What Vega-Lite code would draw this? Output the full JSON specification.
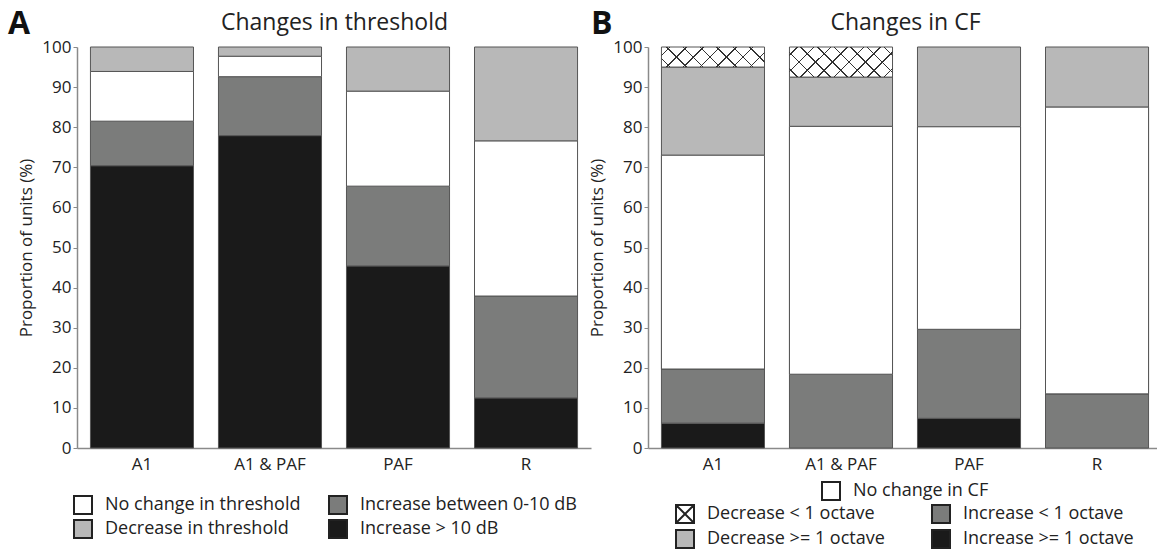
{
  "$schema": "https://vega.github.io/schema/vega-lite/v6.json",
  "padding": {"left": 8, "top": 8, "right": 0, "bottom": 0},
  "config": {
    "font": "Open Sans",
    "view": {"stroke": null},
    "axis": {"labelColor": "#222", "titleColor": "#222", "domainColor": "#8a8a8a", "tickColor": "#8a8a8a", "grid": false, "labelFontSize": 17, "titleFontSize": 17, "titleFontWeight": "normal"},
    "legend": {"labelFontSize": 18, "labelColor": "#222", "padding": 0, "labelLimit": 0}
  },
  "spacing": 57,
  "bounds": "flush",
  "resolve": {"scale": {"fill": "independent"}},
  "hconcat": [
    {
      "width": 514,
      "height": 401,
      "title": {"text": "A", "anchor": "start", "frame": "group", "fontSize": 32, "fontWeight": "bold", "color": "#111", "dx": -69, "dy": 30, "offset": 0},
      "data": {"values": [
        {"region": "A1", "change": "Increase > 10 dB", "pct": 70.4},
        {"region": "A1", "change": "Increase between 0-10 dB", "pct": 11.1},
        {"region": "A1", "change": "No change in threshold", "pct": 12.4},
        {"region": "A1", "change": "Decrease in threshold", "pct": 6.1},
        {"region": "A1 & PAF", "change": "Increase > 10 dB", "pct": 77.9},
        {"region": "A1 & PAF", "change": "Increase between 0-10 dB", "pct": 14.7},
        {"region": "A1 & PAF", "change": "No change in threshold", "pct": 5.1},
        {"region": "A1 & PAF", "change": "Decrease in threshold", "pct": 2.3},
        {"region": "PAF", "change": "Increase > 10 dB", "pct": 45.4},
        {"region": "PAF", "change": "Increase between 0-10 dB", "pct": 19.9},
        {"region": "PAF", "change": "No change in threshold", "pct": 23.7},
        {"region": "PAF", "change": "Decrease in threshold", "pct": 11.0},
        {"region": "R", "change": "Increase > 10 dB", "pct": 12.5},
        {"region": "R", "change": "Increase between 0-10 dB", "pct": 25.4},
        {"region": "R", "change": "No change in threshold", "pct": 38.7},
        {"region": "R", "change": "Decrease in threshold", "pct": 23.4}
      ]},
      "transform": [{"stack": "pct", "groupby": ["region"], "as": ["y0", "y1"]}],
      "layer": [
        {
          "mark": {"type": "bar", "stroke": "#555", "strokeWidth": 1},
          "encoding": {
            "x": {"field": "region", "type": "nominal", "sort": ["A1", "A1 & PAF", "PAF", "R"], "scale": {"paddingInner": 0.195, "paddingOuter": 0.105},
                  "axis": {"title": null, "labelAngle": 0, "ticks": false, "tickSize": 0, "labelPadding": 8, "domainWidth": 1.5}},
            "y": {"field": "y0", "type": "quantitative", "scale": {"domain": [0, 100], "nice": false},
                  "axis": {"title": "Proportion of units (%)", "values": [0, 10, 20, 30, 40, 50, 60, 70, 80, 90, 100], "tickSize": 4, "labelPadding": 2, "titlePadding": 6, "domainWidth": 1.5}},
            "y2": {"field": "y1"},
            "fill": {"field": "change", "type": "nominal",
                     "scale": {"domain": ["No change in threshold", "Decrease in threshold", "Increase between 0-10 dB", "Increase > 10 dB"], "range": ["#ffffff", "#b8b8b8", "#7b7c7b", "#1a1a1a"]},
                     "legend": {"title": null, "orient": "none", "legendX": -4, "legendY": 448, "columns": 2, "columnPadding": 24, "rowPadding": -2, "symbolSize": 324, "symbolType": "square", "symbolStrokeWidth": 2, "symbolStrokeColor": "#222", "labelFontSize": 18, "labelOffset": 12, "labelLimit": 0,
                                "encoding": {"symbols": {"stroke": {"value": "#222"}, "strokeWidth": {"value": 2}}}}}
          }
        },
        {
          "mark": {"type": "bar", "opacity": 0},
          "encoding": {
            "x": {"field": "region", "type": "nominal", "sort": ["A1", "A1 & PAF", "PAF", "R"],
                  "axis": {"orient": "top", "labels": false, "ticks": false, "domain": false, "title": "Changes in threshold", "titleFontSize": 23, "titlePadding": 13}},
            "y": {"field": "y0", "type": "quantitative"},
            "y2": {"field": "y1"}
          }
        }
      ],
      "resolve": {"axis": {"x": "independent"}}
    },
    {
      "width": 514,
      "height": 401,
      "title": {"text": "B", "anchor": "start", "frame": "group", "fontSize": 32, "fontWeight": "bold", "color": "#111", "dx": -57, "dy": 30, "offset": 0},
      "data": {"values": [
        {"region": "A1", "cf": "Increase >= 1 octave", "pct": 6.2},
        {"region": "A1", "cf": "Increase < 1 octave", "pct": 13.5},
        {"region": "A1", "cf": "No change in CF", "pct": 53.3},
        {"region": "A1", "cf": "Decrease >= 1 octave", "pct": 22.0},
        {"region": "A1", "cf": "Decrease < 1 octave", "pct": 5.0},
        {"region": "A1 & PAF", "cf": "Increase < 1 octave", "pct": 18.4},
        {"region": "A1 & PAF", "cf": "No change in CF", "pct": 61.8},
        {"region": "A1 & PAF", "cf": "Decrease >= 1 octave", "pct": 12.3},
        {"region": "A1 & PAF", "cf": "Decrease < 1 octave", "pct": 7.5},
        {"region": "PAF", "cf": "Increase >= 1 octave", "pct": 7.4},
        {"region": "PAF", "cf": "Increase < 1 octave", "pct": 22.2},
        {"region": "PAF", "cf": "No change in CF", "pct": 50.5},
        {"region": "PAF", "cf": "Decrease >= 1 octave", "pct": 19.9},
        {"region": "R", "cf": "Increase < 1 octave", "pct": 13.5},
        {"region": "R", "cf": "No change in CF", "pct": 71.5},
        {"region": "R", "cf": "Decrease >= 1 octave", "pct": 15.0}
      ]},
      "transform": [{"stack": "pct", "groupby": ["region"], "as": ["y0", "y1"]}],
      "layer": [
        {
          "mark": {"type": "bar", "stroke": "#555", "strokeWidth": 1},
          "encoding": {
            "x": {"field": "region", "type": "nominal", "sort": ["A1", "A1 & PAF", "PAF", "R"], "scale": {"paddingInner": 0.195, "paddingOuter": 0.105},
                  "axis": {"title": null, "labelAngle": 0, "ticks": false, "tickSize": 0, "labelPadding": 8, "domainWidth": 1.5}},
            "y": {"field": "y0", "type": "quantitative", "scale": {"domain": [0, 100], "nice": false},
                  "axis": {"title": "Proportion of units (%)", "values": [0, 10, 20, 30, 40, 50, 60, 70, 80, 90, 100], "tickSize": 4, "labelPadding": 2, "titlePadding": 6, "domainWidth": 1.5}},
            "y2": {"field": "y1"},
            "fill": {"field": "cf", "type": "nominal",
                     "scale": {"domain": ["Decrease < 1 octave", "Decrease >= 1 octave", "Increase < 1 octave", "Increase >= 1 octave", "No change in CF"], "range": ["#ffffff", "#b8b8b8", "#7b7c7b", "#1a1a1a", "#ffffff"]},
                     "legend": {"title": null, "orient": "none", "legendX": 27, "legendY": 457, "columns": 2, "columnPadding": 43, "rowPadding": -1,
                                "values": ["Decrease < 1 octave", "Decrease >= 1 octave", "Increase < 1 octave", "Increase >= 1 octave"],
                                "symbolSize": 324, "symbolType": "square", "symbolStrokeWidth": 2, "symbolStrokeColor": "#222", "labelFontSize": 18, "labelOffset": 12, "labelLimit": 0,
                                "encoding": {"symbols": {"stroke": {"value": "#222"}, "strokeWidth": {"value": 2},
                                  "shape": {"condition": {"test": "datum.value === 'Decrease < 1 octave'", "value": "M-1,-1L1,1M1,-1L-1,1M-1,-1L1,-1L1,1L-1,1Z"}, "value": "square"}}}}}
          }
        },
        {
          "transform": [{"filter": "datum.cf === 'No change in CF'"}],
          "mark": {"type": "bar", "stroke": "#555", "strokeWidth": 1},
          "encoding": {
            "x": {"field": "region", "type": "nominal", "sort": ["A1", "A1 & PAF", "PAF", "R"],
                  "axis": {"orient": "top", "labels": false, "ticks": false, "domain": false, "title": "Changes in CF", "titleFontSize": 23, "titlePadding": 13}},
            "y": {"field": "y0", "type": "quantitative"},
            "y2": {"field": "y1"},
            "fill": {"field": "cf", "type": "nominal", "scale": {"domain": ["No change in CF"], "range": ["#ffffff"]},
                     "legend": {"title": null, "orient": "none", "legendX": 173, "legendY": 434, "symbolSize": 324, "symbolType": "square", "symbolStrokeWidth": 2, "symbolStrokeColor": "#222", "labelFontSize": 18, "labelOffset": 12, "labelLimit": 0,
                                "encoding": {"symbols": {"stroke": {"value": "#222"}, "strokeWidth": {"value": 2}}}}}
          }
        },
        {
          "transform": [{"filter": "datum.region === 'A1' && datum.cf === 'Decrease < 1 octave'"}],
          "mark": {"type": "bar", "fill": {"gradient": "linear", "x1": 0, "y1": 0, "x2": 1.151, "y2": 0.2245, "stops": [
            {"offset": 0, "color": "rgba(0,0,0,0)"},
            {"offset": 0.064, "color": "rgba(0,0,0,0)"}, {"offset": 0.064, "color": "#333"}, {"offset": 0.076, "color": "#333"}, {"offset": 0.076, "color": "rgba(0,0,0,0)"},
            {"offset": 0.199, "color": "rgba(0,0,0,0)"}, {"offset": 0.199, "color": "#333"}, {"offset": 0.211, "color": "#333"}, {"offset": 0.211, "color": "rgba(0,0,0,0)"},
            {"offset": 0.334, "color": "rgba(0,0,0,0)"}, {"offset": 0.334, "color": "#333"}, {"offset": 0.346, "color": "#333"}, {"offset": 0.346, "color": "rgba(0,0,0,0)"},
            {"offset": 0.469, "color": "rgba(0,0,0,0)"}, {"offset": 0.469, "color": "#333"}, {"offset": 0.481, "color": "#333"}, {"offset": 0.481, "color": "rgba(0,0,0,0)"},
            {"offset": 0.604, "color": "rgba(0,0,0,0)"}, {"offset": 0.604, "color": "#333"}, {"offset": 0.616, "color": "#333"}, {"offset": 0.616, "color": "rgba(0,0,0,0)"},
            {"offset": 0.739, "color": "rgba(0,0,0,0)"}, {"offset": 0.739, "color": "#333"}, {"offset": 0.751, "color": "#333"}, {"offset": 0.751, "color": "rgba(0,0,0,0)"},
            {"offset": 0.874, "color": "rgba(0,0,0,0)"}, {"offset": 0.874, "color": "#333"}, {"offset": 0.886, "color": "#333"}, {"offset": 0.886, "color": "rgba(0,0,0,0)"},
            {"offset": 1, "color": "rgba(0,0,0,0)"}]}},
          "encoding": {
            "x": {"field": "region", "type": "nominal", "sort": ["A1", "A1 & PAF", "PAF", "R"], "axis": null},
            "y": {"field": "y0", "type": "quantitative"},
            "y2": {"field": "y1"}
          }
        },
        {
          "transform": [{"filter": "datum.region === 'A1' && datum.cf === 'Decrease < 1 octave'"}],
          "mark": {"type": "bar", "fill": {"gradient": "linear", "x1": 0, "y1": 1, "x2": 1.151, "y2": 0.7755, "stops": [
            {"offset": 0, "color": "rgba(0,0,0,0)"},
            {"offset": 0.064, "color": "rgba(0,0,0,0)"}, {"offset": 0.064, "color": "#333"}, {"offset": 0.076, "color": "#333"}, {"offset": 0.076, "color": "rgba(0,0,0,0)"},
            {"offset": 0.199, "color": "rgba(0,0,0,0)"}, {"offset": 0.199, "color": "#333"}, {"offset": 0.211, "color": "#333"}, {"offset": 0.211, "color": "rgba(0,0,0,0)"},
            {"offset": 0.334, "color": "rgba(0,0,0,0)"}, {"offset": 0.334, "color": "#333"}, {"offset": 0.346, "color": "#333"}, {"offset": 0.346, "color": "rgba(0,0,0,0)"},
            {"offset": 0.469, "color": "rgba(0,0,0,0)"}, {"offset": 0.469, "color": "#333"}, {"offset": 0.481, "color": "#333"}, {"offset": 0.481, "color": "rgba(0,0,0,0)"},
            {"offset": 0.604, "color": "rgba(0,0,0,0)"}, {"offset": 0.604, "color": "#333"}, {"offset": 0.616, "color": "#333"}, {"offset": 0.616, "color": "rgba(0,0,0,0)"},
            {"offset": 0.739, "color": "rgba(0,0,0,0)"}, {"offset": 0.739, "color": "#333"}, {"offset": 0.751, "color": "#333"}, {"offset": 0.751, "color": "rgba(0,0,0,0)"},
            {"offset": 0.874, "color": "rgba(0,0,0,0)"}, {"offset": 0.874, "color": "#333"}, {"offset": 0.886, "color": "#333"}, {"offset": 0.886, "color": "rgba(0,0,0,0)"},
            {"offset": 1, "color": "rgba(0,0,0,0)"}]}},
          "encoding": {
            "x": {"field": "region", "type": "nominal", "sort": ["A1", "A1 & PAF", "PAF", "R"], "axis": null},
            "y": {"field": "y0", "type": "quantitative"},
            "y2": {"field": "y1"}
          }
        },
        {
          "transform": [{"filter": "datum.region === 'A1 & PAF' && datum.cf === 'Decrease < 1 octave'"}],
          "mark": {"type": "bar", "fill": {"gradient": "linear", "x1": 0, "y1": 0, "x2": 1.1905, "y2": 0.3476, "stops": [
            {"offset": 0, "color": "rgba(0,0,0,0)"},
            {"offset": 0.0545, "color": "rgba(0,0,0,0)"}, {"offset": 0.0545, "color": "#333"}, {"offset": 0.0655, "color": "#333"}, {"offset": 0.0655, "color": "rgba(0,0,0,0)"},
            {"offset": 0.1795, "color": "rgba(0,0,0,0)"}, {"offset": 0.1795, "color": "#333"}, {"offset": 0.1905, "color": "#333"}, {"offset": 0.1905, "color": "rgba(0,0,0,0)"},
            {"offset": 0.3045, "color": "rgba(0,0,0,0)"}, {"offset": 0.3045, "color": "#333"}, {"offset": 0.3155, "color": "#333"}, {"offset": 0.3155, "color": "rgba(0,0,0,0)"},
            {"offset": 0.4295, "color": "rgba(0,0,0,0)"}, {"offset": 0.4295, "color": "#333"}, {"offset": 0.4405, "color": "#333"}, {"offset": 0.4405, "color": "rgba(0,0,0,0)"},
            {"offset": 0.5545, "color": "rgba(0,0,0,0)"}, {"offset": 0.5545, "color": "#333"}, {"offset": 0.5655, "color": "#333"}, {"offset": 0.5655, "color": "rgba(0,0,0,0)"},
            {"offset": 0.6795, "color": "rgba(0,0,0,0)"}, {"offset": 0.6795, "color": "#333"}, {"offset": 0.6905, "color": "#333"}, {"offset": 0.6905, "color": "rgba(0,0,0,0)"},
            {"offset": 0.8045, "color": "rgba(0,0,0,0)"}, {"offset": 0.8045, "color": "#333"}, {"offset": 0.8155, "color": "#333"}, {"offset": 0.8155, "color": "rgba(0,0,0,0)"},
            {"offset": 0.9295, "color": "rgba(0,0,0,0)"}, {"offset": 0.9295, "color": "#333"}, {"offset": 0.9405, "color": "#333"}, {"offset": 0.9405, "color": "rgba(0,0,0,0)"},
            {"offset": 1, "color": "rgba(0,0,0,0)"}]}},
          "encoding": {
            "x": {"field": "region", "type": "nominal", "sort": ["A1", "A1 & PAF", "PAF", "R"], "axis": null},
            "y": {"field": "y0", "type": "quantitative"},
            "y2": {"field": "y1"}
          }
        },
        {
          "transform": [{"filter": "datum.region === 'A1 & PAF' && datum.cf === 'Decrease < 1 octave'"}],
          "mark": {"type": "bar", "fill": {"gradient": "linear", "x1": 0, "y1": 1, "x2": 1.1905, "y2": 0.6524, "stops": [
            {"offset": 0, "color": "rgba(0,0,0,0)"},
            {"offset": 0.0545, "color": "rgba(0,0,0,0)"}, {"offset": 0.0545, "color": "#333"}, {"offset": 0.0655, "color": "#333"}, {"offset": 0.0655, "color": "rgba(0,0,0,0)"},
            {"offset": 0.1795, "color": "rgba(0,0,0,0)"}, {"offset": 0.1795, "color": "#333"}, {"offset": 0.1905, "color": "#333"}, {"offset": 0.1905, "color": "rgba(0,0,0,0)"},
            {"offset": 0.3045, "color": "rgba(0,0,0,0)"}, {"offset": 0.3045, "color": "#333"}, {"offset": 0.3155, "color": "#333"}, {"offset": 0.3155, "color": "rgba(0,0,0,0)"},
            {"offset": 0.4295, "color": "rgba(0,0,0,0)"}, {"offset": 0.4295, "color": "#333"}, {"offset": 0.4405, "color": "#333"}, {"offset": 0.4405, "color": "rgba(0,0,0,0)"},
            {"offset": 0.5545, "color": "rgba(0,0,0,0)"}, {"offset": 0.5545, "color": "#333"}, {"offset": 0.5655, "color": "#333"}, {"offset": 0.5655, "color": "rgba(0,0,0,0)"},
            {"offset": 0.6795, "color": "rgba(0,0,0,0)"}, {"offset": 0.6795, "color": "#333"}, {"offset": 0.6905, "color": "#333"}, {"offset": 0.6905, "color": "rgba(0,0,0,0)"},
            {"offset": 0.8045, "color": "rgba(0,0,0,0)"}, {"offset": 0.8045, "color": "#333"}, {"offset": 0.8155, "color": "#333"}, {"offset": 0.8155, "color": "rgba(0,0,0,0)"},
            {"offset": 0.9295, "color": "rgba(0,0,0,0)"}, {"offset": 0.9295, "color": "#333"}, {"offset": 0.9405, "color": "#333"}, {"offset": 0.9405, "color": "rgba(0,0,0,0)"},
            {"offset": 1, "color": "rgba(0,0,0,0)"}]}},
          "encoding": {
            "x": {"field": "region", "type": "nominal", "sort": ["A1", "A1 & PAF", "PAF", "R"], "axis": null},
            "y": {"field": "y0", "type": "quantitative"},
            "y2": {"field": "y1"}
          }
        }
      ],
      "resolve": {"scale": {"fill": "independent"}, "axis": {"x": "independent"}, "legend": {"fill": "independent"}}
    }
  ]
}
